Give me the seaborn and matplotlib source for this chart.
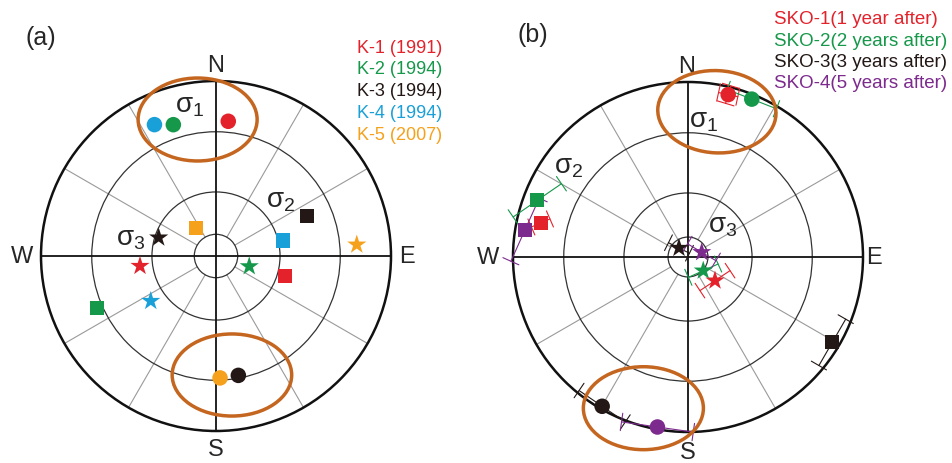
import numpy as np
import pandas as pd
import matplotlib
matplotlib.use("Agg")
import matplotlib.pyplot as plt
from matplotlib.patches import Ellipse, Circle
import seaborn as sns

sns.set_theme(style="white")
plt.rcParams['font.family'] = ['Liberation Sans', 'DejaVu Sans']
plt.rcParams['mathtext.fontset'] = 'custom'
plt.rcParams['mathtext.rm'] = 'Liberation Sans'

# ---------------- data: panel (a) ----------------
samples_a = ['K-1 (1991)', 'K-2 (1994)', 'K-3 (1994)', 'K-4 (1994)', 'K-5 (2007)']
colors_a = ['#E3222B', '#16984A', '#231815', '#1AA0D8', '#F5A11C']
# azimuth (deg, clockwise from N) and distance from centre (fraction of primitive circle)
s1_az_a = [5.2, 342.0, 169.4, 334.9, 178.1]
s1_r_a = [0.773, 0.789, 0.694, 0.829, 0.697]
s2_az_a = [106.4, 246.6, 66.3, 77.1, 324.5]
s2_r_a = [0.411, 0.743, 0.566, 0.395, 0.196]
s3_az_a = [262.5, 107.3, 287.8, 235.4, 85.4]
s3_r_a = [0.438, 0.199, 0.344, 0.453, 0.807]

# ---------------- data: panel (b) ----------------
samples_b = ['SKO-1(1 year after)', 'SKO-2(2 years after)', 'SKO-3(3 years after)', 'SKO-4(5 years after)']
colors_b = ['#E3222B', '#16984A', '#231815', '#7D2A8E']
s1_az_b = [13.9, 22.0, 209.9, 190.2]
s1_r_b = [0.956, 0.973, 0.984, 0.987]
s2_az_b = [283.0, 290.6, 120.6, 279.5]
s2_r_b = [0.864, 0.920, 0.958, 0.944]
s3_az_b = [131.2, 131.9, 315.0, 70.9]
s3_r_b = [0.205, 0.117, 0.073, 0.083]
# confidence bars: half-vectors (east, north) in primitive-radius units
err_s1_b = [[(0.055, -0.012), (0.015, 0.05)], [(0.141, -0.055)], [(0.132, -0.09)], [(0.205, -0.029)]]
err_s2_b = [[(0.053, 0.023)], [(0.138, 0.095)], [(0.0765, 0.1325)], [(0.081, 0.18)]]
err_s3_b = [[(0.086, 0.057)], [(0.085, 0.038)], [(0.06, -0.03)], [(0.081, -0.048)]]

ring_a = [0.124, 0.366, 0.71, 1.0]
ring_b = [0.114, 0.366, 0.71, 1.0]
spoke_az = [30, 60, 120, 150, 210, 240, 300, 330]

ELL = '#C4661F'


def to_xy(az, r):
    az = np.radians(np.asarray(az, float))
    r = np.asarray(r, float)
    return r * np.sin(az), r * np.cos(az)


def frame(ax, rings):
    for rr in rings:
        ax.add_patch(Circle((0, 0), rr, fill=False,
                            lw=1.8 if rr == 1.0 else 0.9,
                            ec='#111111' if rr == 1.0 else '#333333', zorder=2))
    for a in spoke_az:
        x, y = to_xy([a, a], [rings[0], 1.0])
        ax.plot(x, y, color='#9a9a9a', lw=0.8, zorder=1)
    ax.plot([0, 0], [-1, 1], color='#111111', lw=1.3, zorder=2)
    ax.plot([-1, 1], [0, 0], color='#111111', lw=1.3, zorder=2)


def points(ax, samples, colors, az_lists, r_lists):
    pal = dict(zip(samples, colors))
    for (az, r), mk, s in zip(zip(az_lists, r_lists), ['o', 's', '*'], [125, 105, 210]):
        x, y = to_xy(az, r)
        df = pd.DataFrame({'x': x, 'y': y, 'sample': samples})
        sns.scatterplot(data=df, x='x', y='y', hue='sample', palette=pal, marker=mk,
                        s=s, linewidth=0, legend=False, ax=ax, zorder=6)


def errbars(ax, colors, az, r, errs):
    x, y = to_xy(az, r)
    for xi, yi, c, bars in zip(x, y, colors, errs):
        for ex, ey in bars:
            ax.plot([xi - ex, xi + ex], [yi - ey, yi + ey], color=c, lw=0.8, zorder=4)
            L = np.hypot(ex, ey)
            px, py = -ey / L * 0.05, ex / L * 0.05
            for sgn in (-1, 1):
                cx, cy = xi + sgn * ex, yi + sgn * ey
                ax.plot([cx - px, cx + px], [cy - py, cy + py], color=c, lw=0.8, zorder=4)


fig = plt.figure(figsize=(9.52, 4.64), dpi=100)
R = 175.0

# ---------------- panel (a) ----------------
axa = fig.add_axes([0, 0, 0.5, 1])
axa.set_xlim(-216 / R, (476 - 216) / R)
axa.set_ylim(-207 / R, (464 - 207) / R)
axa.axis('off')
frame(axa, ring_a)
points(axa, samples_a, colors_a, [s1_az_a, s2_az_a, s3_az_a], [s1_r_a, s2_r_a, s3_r_a])
axa.add_patch(Ellipse((-0.105, 0.78), 0.68, 0.474, fill=False, ec=ELL, lw=2.5, zorder=7))
axa.add_patch(Ellipse((0.091, -0.68), 0.683, 0.469, fill=False, ec=ELL, lw=2.5, zorder=7))
fs = 17
axa.text(0, 1.09, 'N', ha='center', va='center', fontsize=fs)
axa.text(0, -1.105, 'S', ha='center', va='center', fontsize=fs)
axa.text(-1.11, 0, 'W', ha='center', va='center', fontsize=fs)
axa.text(1.09, 0, 'E', ha='center', va='center', fontsize=fs)
axa.text(-1.0, 1.25, '(a)', ha='center', va='center', fontsize=18)
sfs = 20
axa.text(-0.15, 0.86, r'$\mathregular{σ_1}$', ha='center', va='center', fontsize=sfs)
axa.text(0.37, 0.32, r'$\mathregular{σ_2}$', ha='center', va='center', fontsize=sfs)
axa.text(-0.49, 0.10, r'$\mathregular{σ_3}$', ha='center', va='center', fontsize=sfs)
for i, (lab, c) in enumerate(zip(samples_a, colors_a)):
    axa.text(0.804, 1.194 - i * 0.125, lab, color=c, fontsize=13, ha='left', va='center')

# ---------------- panel (b) ----------------
axb = fig.add_axes([0.5, 0, 0.5, 1])
axb.set_xlim(-212 / R, (476 - 212) / R)
axb.set_ylim(-206 / R, (464 - 206) / R)
axb.axis('off')
frame(axb, ring_b)
errbars(axb, colors_b, s1_az_b, s1_r_b, err_s1_b)
errbars(axb, colors_b, s2_az_b, s2_r_b, err_s2_b)
errbars(axb, colors_b, s3_az_b, s3_r_b, err_s3_b)
points(axb, samples_b, colors_b, [s1_az_b, s2_az_b, s3_az_b], [s1_r_b, s2_r_b, s3_r_b])
axb.add_patch(Ellipse((0.165, 0.83), 0.676, 0.47, angle=-3, fill=False, ec=ELL, lw=2.5, zorder=7))
axb.add_patch(Ellipse((-0.255, -0.864), 0.686, 0.474, fill=False, ec=ELL, lw=2.5, zorder=7))
axb.text(-0.01, 1.09, 'N', ha='center', va='center', fontsize=fs)
axb.text(0, -1.115, 'S', ha='center', va='center', fontsize=fs)
axb.text(-1.143, 0, 'W', ha='center', va='center', fontsize=fs)
axb.text(1.063, 0, 'E', ha='center', va='center', fontsize=fs)
axb.text(-0.887, 1.274, '(b)', ha='center', va='center', fontsize=18)
axb.text(0.09, 0.78, r'$\mathregular{σ_1}$', ha='center', va='center', fontsize=sfs)
axb.text(-0.68, 0.52, r'$\mathregular{σ_2}$', ha='center', va='center', fontsize=sfs)
axb.text(0.2, 0.18, r'$\mathregular{σ_3}$', ha='center', va='center', fontsize=sfs)
for i, (lab, c) in enumerate(zip(samples_b, colors_b)):
    axb.text(0.493, 1.36 - i * 0.121, lab, color=c, fontsize=13.5, ha='left', va='center')

fig.savefig('out.png', dpi=100)
